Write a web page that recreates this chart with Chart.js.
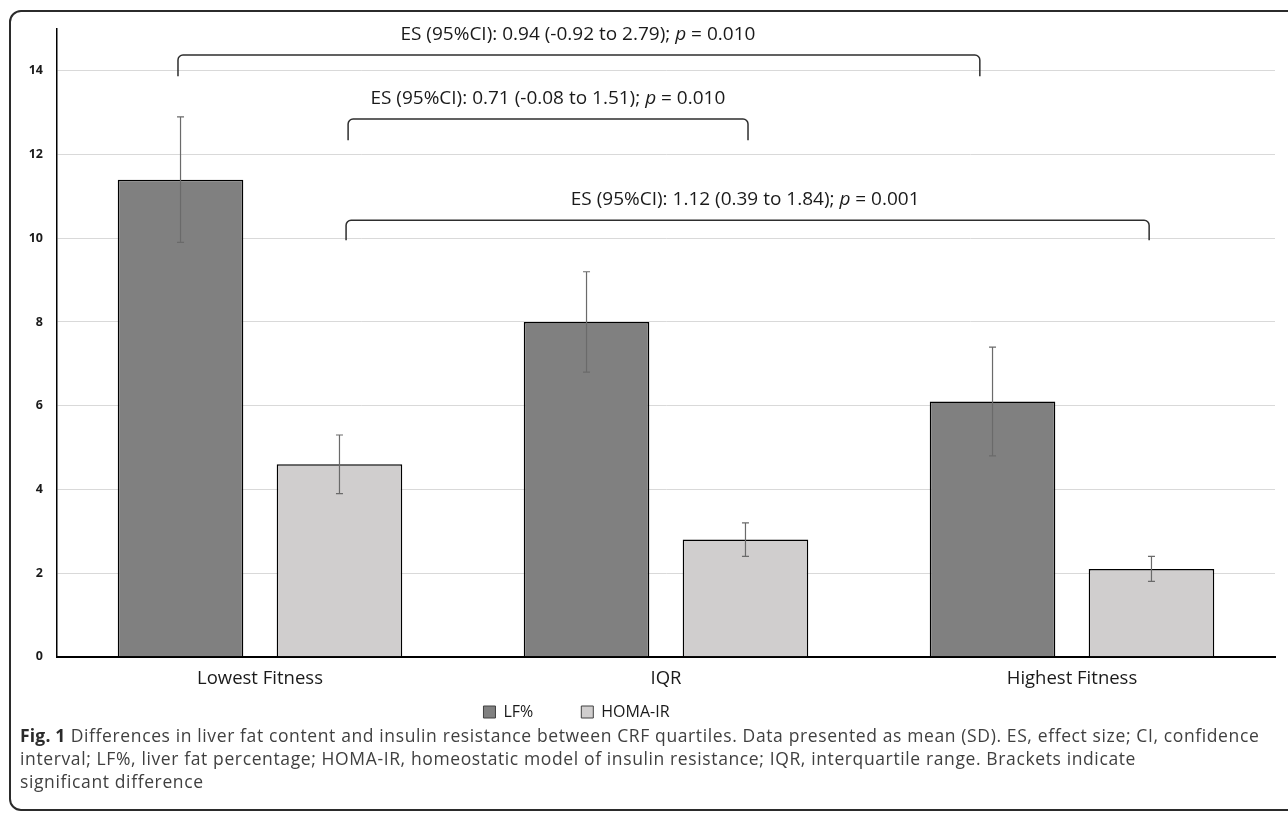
<!DOCTYPE html>
<html>
<head>
<meta charset="utf-8">
<script src="https://cdn.jsdelivr.net/npm/chart.js@4.4.1/dist/chart.umd.min.js"></script>
<style>
  html, body { margin: 0; padding: 0; background: #fff; }
  body { width: 1288px; height: 816px; position: relative; overflow: hidden; font-family: "Open Sans", Lato, sans-serif; }
  #frame { position: absolute; left: 9px; top: 10px; width: 1320px; height: 801px; border: 2px solid #2b2b2b; border-radius: 12px; box-sizing: border-box; }
  #wrap { position: absolute; left: 0; top: 0; width: 1288px; height: 775px; }
  #caption { position: absolute; left: 20px; top: 724px; font-size: 17.5px; letter-spacing: 0.62px; line-height: 23px; color: #404040; white-space: nowrap; }
  #caption b { color: #2a2a2a; letter-spacing: 0.2px; }
</style>
</head>
<body>
<div id="frame"></div>
<div id="wrap"><canvas id="chart"></canvas></div>
<div id="caption"><b>Fig. 1</b> Differences in liver fat content and insulin resistance between CRF quartiles. Data presented as mean (SD). ES, effect size; CI, confidence<br>interval; LF%, liver fat percentage; HOMA-IR, homeostatic model of insulin resistance; IQR, interquartile range. Brackets indicate<br>significant difference</div>
<script>
// ── Data ──
const categories = ["Lowest Fitness", "IQR", "Highest Fitness"];
const lfMean   = [11.4, 8.0, 6.1];
const lfSd     = [1.5, 1.2, 1.3];
const homaMean = [4.6, 2.8, 2.1];
const homaSd   = [0.7, 0.4, 0.3];
const yTicks   = [0, 2, 4, 6, 8, 10, 12, 14];

// brackets: x in category units, y in axis units
const bracketFrom   = [-0.202, 0.217, 0.212];
const bracketTo     = [1.773, 1.202, 2.190];
const bracketTop    = [14.38, 12.85, 10.43];
const bracketFoot   = [13.87, 12.34, 9.95];
const bracketLabelX = [0.783, 0.709, 1.195];
const bracketLabelY = [14.86, 13.33, 10.93];
const bracketEs     = ["0.94 (-0.92 to 2.79)", "0.71 (-0.08 to 1.51)", "1.12 (0.39 to 1.84)"];
const bracketP      = ["0.010", "0.010", "0.001"];

const COLORS = { lf: "#808080", homa: "#d0cece", edge: "#000", err: "#6a6a6a", grid: "#d9d9d9", text: "#1a1a1a" };
const FONT = "'Open Sans', Lato, sans-serif";
const LEGEND_GAP = 48;

// ── Error bars (mean ± SD) ──
const errorBars = {
  id: "errorBars",
  afterDatasetsDraw(chart) {
    const { ctx } = chart;
    const y = chart.scales.y;
    const sds = [lfSd, homaSd];
    ctx.save();
    ctx.strokeStyle = COLORS.err;
    ctx.lineWidth = 1.2;
    chart.data.datasets.forEach((ds, di) => {
      chart.getDatasetMeta(di).data.forEach((bar, i) => {
        const hi = y.getPixelForValue(ds.data[i] + sds[di][i]);
        const lo = y.getPixelForValue(ds.data[i] - sds[di][i]);
        ctx.beginPath();
        ctx.moveTo(bar.x, hi); ctx.lineTo(bar.x, lo);
        ctx.moveTo(bar.x - 3.5, hi); ctx.lineTo(bar.x + 3.5, hi);
        ctx.moveTo(bar.x - 3.5, lo); ctx.lineTo(bar.x + 3.5, lo);
        ctx.stroke();
      });
    });
    ctx.restore();
  }
};

// ── Significance brackets ──
const brackets = {
  id: "brackets",
  afterDraw(chart) {
    const { ctx } = chart;
    const x = chart.scales.x, y = chart.scales.y;
    ctx.save();
    ctx.strokeStyle = "#2e2e2e";
    ctx.lineWidth = 1.5;
    const r = 5;
    bracketFrom.forEach((f, i) => {
      const x1 = x.getPixelForValue(f), x2 = x.getPixelForValue(bracketTo[i]);
      const yt = y.getPixelForValue(bracketTop[i]), yf = y.getPixelForValue(bracketFoot[i]);
      ctx.beginPath();
      ctx.moveTo(x1, yf);
      ctx.arcTo(x1, yt, x1 + r, yt, r);
      ctx.arcTo(x2, yt, x2, yt + r, r);
      ctx.lineTo(x2, yf);
      ctx.stroke();

      // label with italic p
      const parts = [
        { t: "ES (95%CI): " + bracketEs[i] + "; ", f: "19px " + FONT },
        { t: "p", f: "italic 19px " + FONT },
        { t: " = " + bracketP[i], f: "19px " + FONT },
      ];
      let w = 0;
      parts.forEach(p => { ctx.font = p.f; p.w = ctx.measureText(p.t).width; w += p.w; });
      let cx = x.getPixelForValue(bracketLabelX[i]) - w / 2;
      const cy = y.getPixelForValue(bracketLabelY[i]);
      ctx.fillStyle = COLORS.text;
      ctx.textBaseline = "middle";
      ctx.textAlign = "left";
      parts.forEach(p => { ctx.font = p.f; ctx.fillText(p.t, cx, cy); cx += p.w; });
    });
    ctx.restore();
  }
};

// ── Move legend to where it sits in the figure (wide item gap, tight top) ──
const legendShift = {
  id: "legendShift",
  afterLayout(chart) {
    const lg = chart.legend;
    if (!lg) return;
    lg.left -= 61; lg.right -= 61;
    lg.top -= LEGEND_GAP - 3; lg.bottom -= LEGEND_GAP - 3;
  }
};

new Chart(document.getElementById("chart"), {
  type: "bar",
  data: {
    labels: categories,
    datasets: [
      { label: "LF%", data: lfMean, backgroundColor: COLORS.lf, borderColor: COLORS.edge, borderWidth: 1.5 },
      { label: "HOMA-IR", data: homaMean, backgroundColor: COLORS.homa, borderColor: COLORS.edge, borderWidth: 1.5 },
    ]
  },
  options: {
    responsive: true,
    maintainAspectRatio: false,
    animation: false,
    categoryPercentage: 0.783,
    barPercentage: 0.79,
    layout: { padding: { top: 29, right: 13, left: 0, bottom: 0 } },
    plugins: {
      tooltip: { enabled: false },
      legend: {
        position: "bottom",
        labels: {
          boxWidth: 12, boxHeight: 12, padding: LEGEND_GAP, color: COLORS.text,
          font: { family: FONT, size: 16 },
          generateLabels(chart) {
            return chart.data.datasets.map((ds, i) => ({
              text: ds.label, fillStyle: ds.backgroundColor, strokeStyle: "#404040",
              lineWidth: 1, datasetIndex: i, fontColor: COLORS.text
            }));
          }
        }
      }
    },
    scales: {
      x: {
        grid: { display: false, drawTicks: false },
        border: { color: "#000", width: 2 },
        ticks: { color: COLORS.text, padding: 11, font: { family: FONT, size: 18.5 } }
      },
      y: {
        min: 0, max: 15,
        afterBuildTicks(scale) { scale.ticks = yTicks.map(v => ({ value: v })); },
        afterFit(scale) { scale.width = 57; },
        grid: { color: COLORS.grid, lineWidth: 1, drawTicks: false },
        border: { color: "#000", width: 1.5 },
        ticks: { color: COLORS.text, padding: 14, font: { family: FONT, size: 12.5, weight: "bold" } }
      }
    }
  },
  plugins: [errorBars, brackets, legendShift]
});
</script>
</body>
</html>
